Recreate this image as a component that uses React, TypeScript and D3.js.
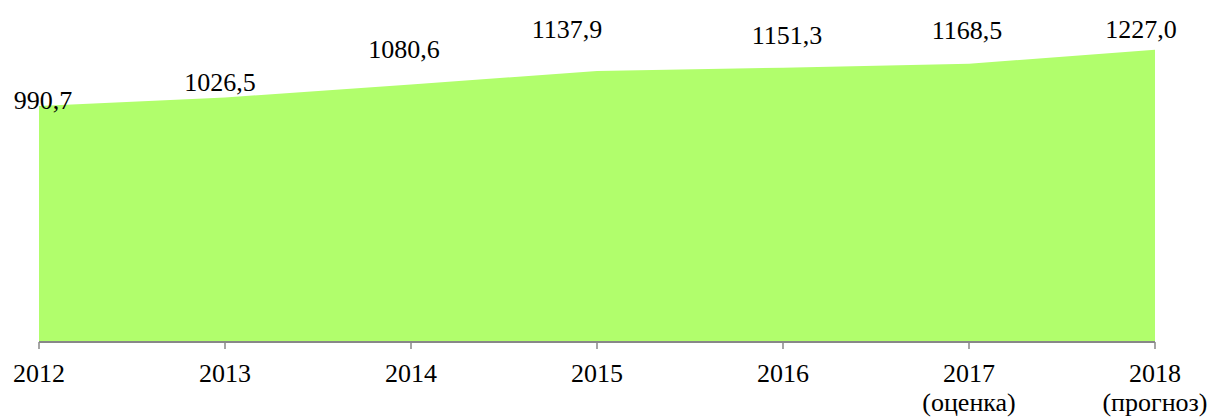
import React from 'react';
import * as d3 from 'd3';

const years = ['2012', '2013', '2014', '2015', '2016', '2017', '2018'];
const notes = ['', '', '', '', '', '(оценка)', '(прогноз)'];
const values = [990.7, 1026.5, 1080.6, 1137.9, 1151.3, 1168.5, 1227.0];
const valueLabels = ['990,7', '1026,5', '1080,6', '1137,9', '1151,3', '1168,5', '1227,0'];

// manual label nudges, like the hand-placed labels in the original
const labelShift = [[4, 3], [-5, -6], [-7, -27], [-30, -33], [4, -24], [-2, -25], [-14, -12]];

const W = 1212;
const H = 418;
const textStyle = {
  fontFamily: "'Times New Roman', Times, 'Liberation Serif', Tinos, 'Nimbus Roman', 'DejaVu Serif', serif",
  fontSize: 26
};

export default function App() {
  const x = d3.scalePoint<string>().domain(years).range([39, 1155]);
  const y = d3.scaleLinear().domain([0, 1400]).range([342, 8.5]);

  const area = d3.area<number>()
    .x((d, i) => x(years[i]) as number)
    .y0(y(0))
    .y1((d) => y(d));

  return (
    <svg width={W} height={H} style={{ position: 'absolute', left: 0, top: 0, background: '#fff' }}>
      <path d={area(values) || ''} fill="#b1fe6c" />

      <line x1={x(years[0])} x2={x(years[years.length - 1])} y1={y(0)} y2={y(0)}
            stroke="#888" strokeWidth={2} />
      {years.map((yr, i) => (
        <g key={yr} transform={`translate(${x(yr)},0)`}>
          <line y1={y(0)} y2={y(0) + 7} stroke="#888" strokeWidth={1.5} />
          <text y={382} textAnchor="middle" style={textStyle} fill="#000">{yr}</text>
          {notes[i] && (
            <text y={411} textAnchor="middle" style={textStyle} fill="#000">{notes[i]}</text>
          )}
        </g>
      ))}

      {values.map((v, i) => (
        <text key={i}
              x={(x(years[i]) as number) + labelShift[i][0]}
              y={y(v) + labelShift[i][1]}
              textAnchor="middle" style={textStyle} fill="#000">
          {valueLabels[i]}
        </text>
      ))}
    </svg>
  );
}
